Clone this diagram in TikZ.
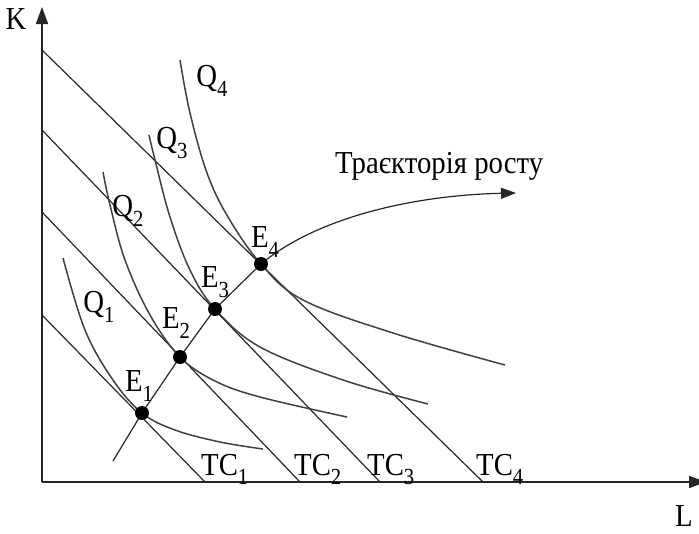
\documentclass[tikz,border=0pt]{standalone}
\usepackage{fontspec}
\setmainfont{Liberation Serif}
\usetikzlibrary{arrows.meta}
\newcommand{\lowsub}[1]{\raisebox{-0.3em}{\fontsize{23}{23}\selectfont #1}}
\begin{document}
\begin{tikzpicture}[x=1pt,y=-1pt,
  axis/.style={line width=1.8pt,draw=black!85,-{Triangle[length=17pt,width=12pt]}},
  budget/.style={line width=1.2pt,draw=black!85},
  iso/.style={line width=1.5pt,draw=black!75},
  path/.style={line width=1.2pt,draw=black!85},
  lbl/.style={inner sep=0pt,font=\fontsize{32}{34}\selectfont,xscale=0.9,transform shape},
  dot/.style={circle,fill=black,inner sep=0pt,minimum size=14pt}]
\useasboundingbox (0,0) rectangle (699,533);
% axes
\coordinate (O) at (42,482);
\coordinate (Ktip) at (42,7);
\coordinate (Ltip) at (706,482);
\draw[axis] (O) -- (Ktip);
\draw[axis] (O) -- (Ltip);
\node[lbl] (K) at (16,19) {K};
\node[lbl] (L) at (684,516) {L};
% budget lines
\coordinate (a1) at (42,315); \coordinate (b1) at (205,482);
\coordinate (a2) at (42,212); \coordinate (b2) at (300,482);
\coordinate (a3) at (42,130); \coordinate (b3) at (380,482);
\coordinate (a4) at (42,50);  \coordinate (b4) at (483,482);
\draw[budget] (a1) -- (b1);
\draw[budget] (a2) -- (b2);
\draw[budget] (a3) -- (b3);
\draw[budget] (a4) -- (b4);
\node[lbl,anchor=base west] (tc1) at (201,475) {TC\lowsub{1}};
\node[lbl,anchor=base west] (tc2) at (294,475) {TC\lowsub{2}};
\node[lbl,anchor=base west] (tc3) at (367,475) {TC\lowsub{3}};
\node[lbl,anchor=base west] (tc4) at (476,475) {TC\lowsub{4}};
% equilibrium points
\coordinate (E1) at (142,413);
\coordinate (E2) at (180,357);
\coordinate (E3) at (215,309);
\coordinate (E4) at (261,264);
% isoquants
\draw[iso] plot[smooth,tension=0.6] coordinates {(63,258) (85,330) (113,380) (142,413) (175,430) (220,442) (263,449)};
\draw[iso] plot[smooth,tension=0.6] coordinates {(103,172) (110,205) (125,260) (150,315) (180,357) (215,381) (260,397) (347,417)};
\draw[iso] plot[smooth,tension=0.6] coordinates {(149,135) (155,160) (170,217) (190,270) (215,309) (260,347) (343,380) (428,404)};
\draw[iso] plot[smooth,tension=0.6] coordinates {(180,60) (190,113) (207,173) (228,217) (261,264) (303,300) (393,333) (505,365)};
\node[lbl] (q1) at (99,307) {Q\lowsub{1}};
\node[lbl] (q2) at (128,211) {Q\lowsub{2}};
\node[lbl] (q3) at (172,143) {Q\lowsub{3}};
\node[lbl] (q4) at (212,81) {Q\lowsub{4}};
% expansion path
\coordinate (P0) at (113,461);
\coordinate (Pend) at (516,193);
\draw[path] (P0) -- (E1) -- (E2) -- (E3) -- (E4);
\draw[path,-{Triangle[length=15pt,width=11pt]}] (E4) .. controls (320,215) and (420,195) .. (Pend);
\node[dot] (e1) at (E1) {};
\node[dot] (e2) at (E2) {};
\node[dot] (e3) at (E3) {};
\node[dot] (e4) at (E4) {};
\node[lbl] (E1l) at (139,386) {E\lowsub{1}};
\node[lbl] (E2l) at (176,323) {E\lowsub{2}};
\node[lbl] (E3l) at (215,282) {E\lowsub{3}};
\node[lbl] (E4l) at (265,242) {E\lowsub{4}};
\node[lbl,anchor=base west] (traj) at (335,173) {Траєкторія росту};
\end{tikzpicture}
\end{document}
